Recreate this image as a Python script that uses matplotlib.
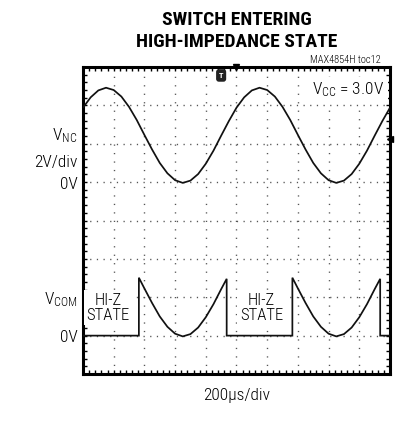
import matplotlib
matplotlib.use("Agg")
import matplotlib.pyplot as plt
from matplotlib import font_manager
from matplotlib.ticker import MultipleLocator
import matplotlib.transforms as mtransforms

# ---------------- data (in scope divisions) ----------------
# V_NC sine, every 0.25 div (x: 0..10 div, y: 0..8 div)
vnc_x = [i * 0.25 for i in range(41)]
vnc_y = [6.94, 7.21, 7.39, 7.46, 7.40, 7.23, 6.96, 6.62, 6.23, 5.85,
         5.50, 5.23, 5.05, 4.98, 5.04, 5.21, 5.48, 5.82, 6.21, 6.59,
         6.94, 7.21, 7.39, 7.46, 7.40, 7.23, 6.96, 6.62, 6.23, 5.85,
         5.50, 5.23, 5.05, 4.98, 5.04, 5.21, 5.48, 5.82, 6.21, 6.59,
         6.94]
# V_COM trace: flat 0V in Hi-Z, follows the input when on
com_x = [0.0, 1.82, 1.82, 2.0, 2.25, 2.5, 2.75, 3.0, 3.25, 3.5, 3.75, 4.0,
         4.25, 4.5, 4.68, 4.68, 6.82, 6.82, 7.0, 7.25, 7.5, 7.75, 8.0, 8.25,
         8.5, 8.75, 9.0, 9.25, 9.5, 9.68, 9.68, 10.0]
com_y = [1.0, 1.0, 2.51, 2.23, 1.85, 1.50, 1.23, 1.05, 0.98, 1.04, 1.21, 1.48,
         1.82, 2.21, 2.48, 1.0, 1.0, 2.51, 2.23, 1.85, 1.50, 1.23, 1.05, 0.98,
         1.04, 1.21, 1.48, 1.82, 2.21, 2.48, 1.0, 1.0]

title_lines = ["SWITCH ENTERING", "HIGH-IMPEDANCE STATE"]
left_labels = [("$\\mathregular{V_{NC}}$", 6.22), ("2V/div", 5.50), ("0V", 4.95),
               ("$\\mathregular{V_{COM}}$", 1.93), ("0V", 0.95)]
hiz_positions = [0.82, 5.82]
x_label = "200\u03bcs/div"
vcc_label = "$\\mathregular{V_{CC}}$ = 3.0V"
toc_label = "MAX4854H toc12"

# ---------------- fonts ----------------
def pick(names, weight="normal"):
    for n in names:
        try:
            font_manager.findfont(font_manager.FontProperties(family=n, weight=weight),
                                  fallback_to_default=False)
            return n
        except Exception:
            pass
    return "DejaVu Sans"

narrow = pick(["Roboto Condensed", "Barlow Semi Condensed", "Archivo Narrow",
               "Liberation Sans"])
bold_narrow = pick(["Roboto Condensed", "Barlow Condensed", "Asap Condensed",
                    "Liberation Sans"], weight="bold")
LW = "light"
plt.rcParams["font.family"] = [narrow, "DejaVu Sans"]
plt.rcParams["font.weight"] = LW
plt.rcParams["mathtext.fontset"] = "custom"
plt.rcParams["mathtext.rm"] = narrow + ":light"
plt.rcParams["mathtext.it"] = narrow + ":light"
plt.rcParams["mathtext.bf"] = narrow + ":bold"

# ---------------- figure ----------------
fig = plt.figure(figsize=(4.14, 4.32), dpi=100)
ax = fig.add_axes([83 / 414, 1 - 374 / 432, 307 / 414, 307 / 432])
ax.set_xlim(0, 10)
ax.set_ylim(0, 8)

# graticule
for gx in range(1, 10):
    ax.axvline(gx, color="#555555", lw=1.0, dashes=(0.9, 5.2), zorder=1)
for gy in range(1, 8):
    ax.axhline(gy, color="#555555", lw=1.0, dashes=(0.9, 3.9), zorder=1)

ax.xaxis.set_minor_locator(MultipleLocator(0.2))
ax.yaxis.set_minor_locator(MultipleLocator(0.2))
ax.xaxis.set_major_locator(MultipleLocator(1))
ax.yaxis.set_major_locator(MultipleLocator(1))
ax.tick_params(which="both", direction="in", length=3, width=1,
               top=True, right=True, labelbottom=False, labelleft=False)
for s in ax.spines.values():
    s.set_linewidth(2.2)

# traces
ax.plot(vnc_x, vnc_y, color="#111111", lw=1.25, zorder=4, solid_capstyle="butt")
ax.plot(com_x, com_y, color="#111111", lw=1.25, zorder=4, solid_joinstyle="miter")

# text boxes
ax.text(7.45, 7.4, vcc_label, fontsize=12.5, ha="left", va="center", zorder=3,
        bbox=dict(facecolor="white", edgecolor="none", pad=3))
for hx in hiz_positions:
    ax.text(hx, 1.73, "HI-Z\nSTATE", fontsize=12, ha="center", va="center",
            linespacing=1.0, zorder=3,
            bbox=dict(facecolor="white", edgecolor="none", pad=2))

# trigger marker and edge markers
ax.text(4.5, 7.78, "T", fontsize=6, fontweight="bold", color="white",
        ha="center", va="center", zorder=5,
        bbox=dict(boxstyle="round,pad=0.25", facecolor="#222222", edgecolor="#222222"))
ax.plot([5.0], [8.0], marker="v", ms=4, color="black", clip_on=False, zorder=6)
ax.plot([10.0], [6.12], marker="<", ms=5, color="black", clip_on=False, zorder=6)

# left labels
trans = mtransforms.blended_transform_factory(ax.transAxes, ax.transData)
for txt, yv in left_labels:
    ax.text(-0.018, yv, txt, transform=trans, ha="right", va="center",
            fontsize=12.5, clip_on=False)

# x label
ax.text(0.5, -0.045, x_label, transform=ax.transAxes, ha="center", va="top",
        fontsize=12.5)

# title
fig.text(236.5 / 414, 1 - 20 / 432, title_lines[0], ha="center", va="center",
         fontsize=14, fontweight="heavy", family=[bold_narrow, "DejaVu Sans"])
fig.text(236.5 / 414, 1 - 42 / 432, title_lines[1], ha="center", va="center",
         fontsize=14, fontweight="heavy", family=[bold_narrow, "DejaVu Sans"])
fig.text(381 / 414, 1 - 60 / 432, toc_label, ha="right", va="center",
         fontsize=7.5)

fig.savefig("out.png", dpi=100)
